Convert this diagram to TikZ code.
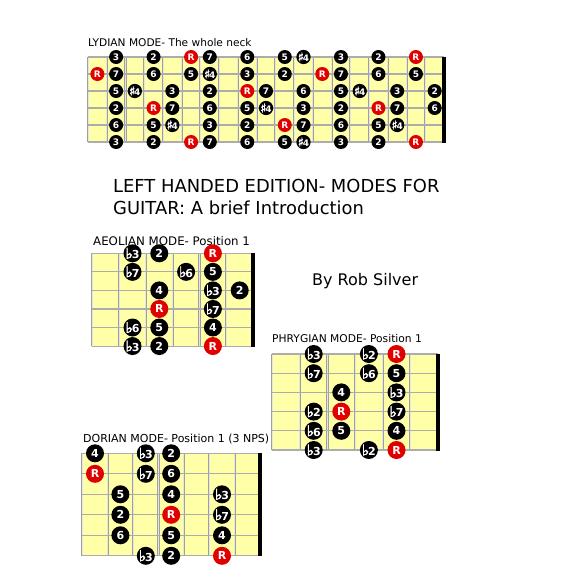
\documentclass[tikz,border=0pt]{standalone}
\usepackage{fontspec}
\setmainfont{DejaVu Sans}
\newfontfamily\accfont[FakeBold=2.5]{DejaVu Sans}
\definecolor{boardyellow}{HTML}{FFFFA8}
\definecolor{rootred}{HTML}{E00000}
\newcommand{\fl}{\raisebox{-0.2pt}{\scalebox{1.45}[1.35]{\accfont ♭}}\kern-1.2pt}
\newcommand{\sh}{\raisebox{-0.2pt}{\scalebox{1.35}{\accfont ♯}}\kern-1pt}
\def\dotsz{14pt}
\def\dotfs{9}
% neck: left, top, fret width, string gap, number of frets
\newcommand{\drawneck}[5]{%
  \fill[boardyellow] (#1,#2) rectangle ({#1+#5*#3},{#2+5*#4});
  \foreach \f in {0,...,#5} \draw[fret] ({#1+\f*#3},#2) -- ({#1+\f*#3},{#2+5*#4});
  \foreach \s in {0,...,5} \draw[string] (#1,{#2+\s*#4}) -- ({#1+#5*#3},{#2+\s*#4});
  \draw[nut] ({#1+#5*#3},{#2-0.5}) -- ({#1+#5*#3},{#2+5*#4+0.5});
}
% notes: name, left, top, fret width, string gap, notes, roots
\newcommand{\drawnotes}[7]{%
  \foreach \s/\c/\t in {#6}
    \node[dot] (#1-\s-\c) at ({#2+(\c+.5)*#4},{#3+(\s-1)*#5}) {\t};
  \foreach \s/\c in {#7}
    \node[dot,fill=rootred] (#1-\s-\c) at ({#2+(\c+.5)*#4},{#3+(\s-1)*#5}) {R};
}

\begin{document}
\begin{tikzpicture}[x=1pt,y=-1pt,
  fret/.style={draw=gray!75,double=gray!20,double distance=0.9pt,line width=0.6pt},
  string/.style={draw=gray!65,line width=1.1pt},
  nut/.style={draw=black,line width=3.5pt},
  dot/.style={circle,fill=black,text=white,inner sep=0pt,minimum size=\dotsz,
    font=\fontsize{\dotfs}{\dotfs}\selectfont\bfseries},
  title/.style={anchor=west,inner sep=0pt,font=\fontsize{10.6}{12}\selectfont},
  big/.style={anchor=west,inner sep=0pt,font=\fontsize{17.9}{21}\selectfont}]
\useasboundingbox[fill=white] (0,0) rectangle (576,576);

% Lydian, the whole neck
\node[title] (lyt) at (88,43) {LYDIAN MODE- The whole neck};
\drawneck{88}{57}{18.74}{17}{19}
\drawnotes{ly}{88}{57}{18.74}{17}
 {1/1/3,1/3/2,1/6/7,1/8/6,1/10/5,1/11/\sh4,1/13/3,1/15/2,
  2/1/7,2/3/6,2/5/5,2/6/\sh4,2/8/3,2/10/2,2/13/7,2/15/6,2/17/5,
  3/1/5,3/2/\sh4,3/4/3,3/6/2,3/9/7,3/11/6,3/13/5,3/14/\sh4,3/16/3,3/18/2,
  4/1/2,4/4/7,4/6/6,4/8/5,4/9/\sh4,4/11/3,4/13/2,4/16/7,4/18/6,
  5/1/6,5/3/5,5/4/\sh4,5/6/3,5/8/2,5/11/7,5/13/6,5/15/5,5/16/\sh4,
  6/1/3,6/3/2,6/6/7,6/8/6,6/10/5,6/11/\sh4,6/13/3,6/15/2}
 {1/5,1/17,2/0,2/12,3/8,4/3,4/15,5/10,6/5,6/17}

\node[big] (head1) at (113,186) {LEFT HANDED EDITION- MODES FOR};
\node[big] (head2) at (113,208) {GUITAR: A brief Introduction};
\node[big,font=\fontsize{16}{19}\selectfont] (by) at (312,281) {By Rob Silver};

\def\dotsz{18pt}
\def\dotfs{11}
% Aeolian
\node[title,font=\fontsize{11.8}{14}\selectfont] (aet) at (93,241) {AEOLIAN MODE- Position 1};
\drawneck{92.3}{253.3}{26.8}{18.55}{6}
\drawnotes{ae}{92.3}{253.3}{26.8}{18.55}
 {1/1/\fl3,1/2/2,2/1/\fl7,2/3/\fl6,2/4/5,3/2/4,3/4/\fl3,3/5/2,
  4/4/\fl7,5/1/\fl6,5/2/5,5/4/4,6/1/\fl3,6/2/2}
 {1/4,4/2,6/4}

% Phrygian
\node[title,font=\fontsize{10.7}{13}\selectfont] (pht) at (272,339) {PHRYGIAN MODE- Position 1};
\drawneck{272.3}{354}{27.6}{19.2}{6}
\drawnotes{ph}{272.3}{354}{27.6}{19.2}
 {1/1/\fl3,1/3/\fl2,2/1/\fl7,2/3/\fl6,2/4/5,3/2/4,3/4/\fl3,
  4/1/\fl2,4/4/\fl7,5/1/\fl6,5/2/5,5/4/4,6/1/\fl3,6/3/\fl2}
 {1/4,4/2,6/4}

% Dorian, 3 notes per string
\node[title,font=\fontsize{11}{13}\selectfont] (dot) at (83,439) {DORIAN MODE- Position 1 (3 NPS)};
\drawneck{82.3}{453.3}{25.4}{20.5}{7}
\drawnotes{do}{82.3}{453.3}{25.4}{20.5}
 {1/0/4,1/2/\fl3,1/3/2,2/2/\fl7,2/3/6,3/1/5,3/3/4,3/5/\fl3,
  4/1/2,4/5/\fl7,5/1/6,5/3/5,5/5/4,6/2/\fl3,6/3/2}
 {2/0,4/3,6/5}
\end{tikzpicture}
\end{document}
